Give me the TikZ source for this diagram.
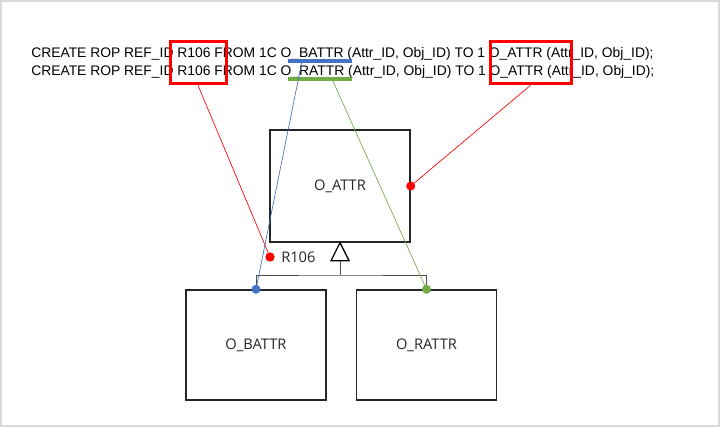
\documentclass[tikz,border=0pt]{standalone}
\usepackage{fontspec}
\setmainfont{Liberation Sans}
\newfontfamily\clsfont{Open Sans}
\usetikzlibrary{arrows.meta}
\definecolor{ropred}{RGB}{255,0,0}
\definecolor{ropblue}{RGB}{68,114,196}
\definecolor{ropgreen}{RGB}{112,173,71}
\definecolor{frame}{RGB}{217,217,217}

\begin{document}
\begin{tikzpicture}[x=0.75pt,y=-0.75pt,
  stmt/.style={anchor=base west,inner sep=0pt,font=\fontsize{10.4}{12}\selectfont},
  hilite/.style={draw=ropred,line width=2.25pt,minimum height=32pt,inner sep=0pt},
  cls/.style={draw=black!85,line width=1.1pt,minimum width=105pt,text=black!85,font=\clsfont\fontsize{11}{13}\selectfont},
  dot/.style={circle,fill=#1,inner sep=0pt,minimum size=6.75pt},
  link/.style={line width=0.5pt}]
\useasboundingbox (0,0) rectangle (720,427);
\draw[frame,line width=1.2pt] (1,1) rectangle (719,426);

\node[stmt] (line1) at (31,58) {CREATE ROP REF\_ID R106 FROM 1C O\_BATTR (Attr\_ID, Obj\_ID) TO 1 O\_ATTR (Attr\_ID, Obj\_ID);};
\node[stmt] (line2) at (31,76) {CREATE ROP REF\_ID R106 FROM 1C O\_RATTR (Attr\_ID, Obj\_ID) TO 1 O\_ATTR (Attr\_ID, Obj\_ID);};

\node[hilite,minimum width=42pt] (refid) at (198,62.5) {};
\node[hilite,minimum width=60.75pt] (target) at (530.5,62.5) {};

\draw[ropblue,line width=2.5pt] (288,61) -- (352,61);
\draw[ropgreen,line width=2.5pt] (288,79) -- (352,79);
\coordinate (bsrc) at (302,61);
\coordinate (rsrc) at (332,79);

\node[cls,minimum height=84pt] (oattr) at (340,186) {O\_ATTR};
\node[cls,minimum height=82.5pt] (obattr) at (256,345) {O\_BATTR};
\node[cls,minimum height=82.5pt] (orattr) at (426.5,345) {O\_RATTR};

% generalisation
\draw[black!70,line width=0.6pt] (340,260) -- (340,275) coordinate (split);
\draw[black!70,line width=0.6pt] (obattr.north) |- (split) -| (orattr.north);
\draw[black,line width=1pt,fill=white] (oattr.south) -- ++(9,18) -- ++(-18,0) -- cycle;

\node[dot=ropred] (rdot) at (270,257) {};
\node[right,inner sep=0pt,text=black!85,font=\clsfont\fontsize{11}{13}\selectfont] (rname) at (281,257) {R106};

\draw[link,ropred] (rdot) -- (refid.south);
\draw[link,ropred] (oattr.east) -- (target.south);
\draw[link,ropblue] (obattr.north) -- (bsrc);
\draw[link,ropgreen] (orattr.north) -- (rsrc);

\node[dot=ropred] at (oattr.east) {};
\node[dot=ropblue] at (obattr.north) {};
\node[dot=ropgreen] at (orattr.north) {};
\node[dot=ropred] at (rdot) {};
\end{tikzpicture}
\end{document}
